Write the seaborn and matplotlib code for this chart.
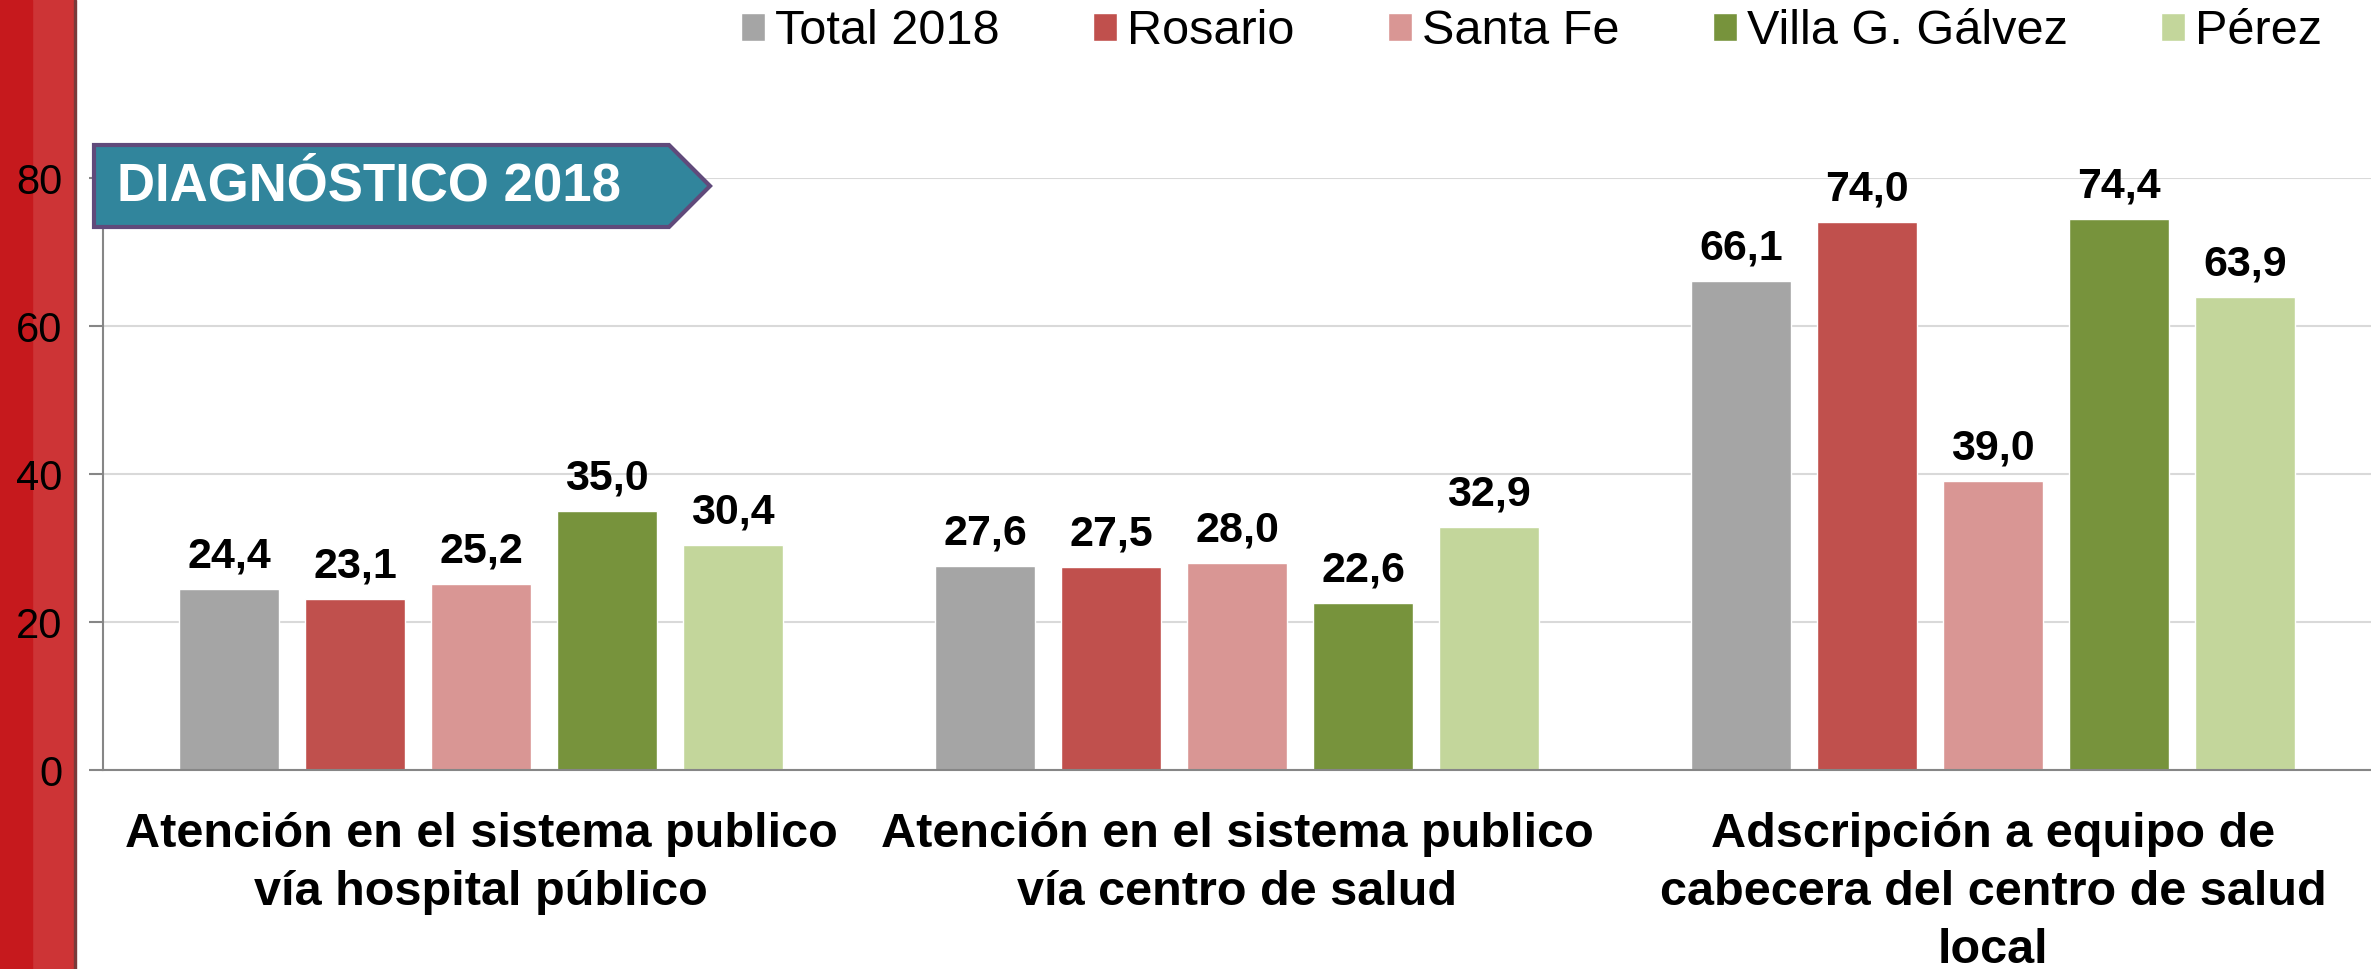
import numpy as np
import pandas as pd
import matplotlib
matplotlib.use("Agg")
import matplotlib.pyplot as plt
import seaborn as sns
from matplotlib.patches import Rectangle, Polygon

# datos
categorias = ["Atención en el sistema publico\nvía hospital público",
              "Atención en el sistema publico\nvía centro de salud",
              "Adscripción a equipo de\ncabecera del centro de salud\nlocal"]
regiones = ["Total 2018", "Rosario", "Santa Fe", "Villa G. Gálvez", "Pérez"]
total_2018 = [24.4, 27.6, 66.1]
rosario = [23.1, 27.5, 74.0]
santa_fe = [25.2, 28.0, 39.0]
villa_g_galvez = [35.0, 22.6, 74.4]
perez = [30.4, 32.9, 63.9]
colores = ["#A5A5A5", "#C0504D", "#D99694", "#77933C", "#C3D69B"]
y_ticks = [0, 20, 40, 60, 80]

sns.set_style("white")
plt.rcParams['font.family'] = ['Liberation Sans', 'DejaVu Sans']
plt.rcParams['text.color'] = 'black'

series = [total_2018, rosario, santa_fe, villa_g_galvez, perez]
df = pd.DataFrame({
    "Categoria": categorias * len(regiones),
    "Region": np.repeat(regiones, len(categorias)),
    "Valor": np.concatenate(series)})

W, H = 2371, 969
fig = plt.figure(figsize=(W / 100, H / 100), dpi=100)

# franja roja de la diapositiva
fig.patches.append(Rectangle((0, 0), 75 / W, 1, transform=fig.transFigure,
                             color="#CD3436", zorder=-2))
fig.patches.append(Rectangle((0, 0), 32 / W, 1, transform=fig.transFigure,
                             color="#C6191D", zorder=-2))
fig.patches.append(Rectangle((74 / W, 0), 2 / W, 1, transform=fig.transFigure,
                             color="#7A3A3A", zorder=-2))

ax = fig.add_axes([103 / W, 199 / H, 1 - 103 / W, 592 / H])
ax.patch.set_alpha(0)
sns.barplot(data=df, x="Categoria", y="Valor", hue="Region", hue_order=regiones,
            palette=colores, width=0.833, gap=0.2, saturation=1,
            errorbar=None, ax=ax)

ax.set_xlim(-0.5, 2.5)
ax.set_ylim(0, 80)
ax.set_yticks(y_ticks)
ax.set_xlabel("")
ax.set_ylabel("")
ax.yaxis.grid(True, color="#D9D9D9", lw=1.5)
ax.set_axisbelow(True)
for s in ["top", "right"]:
    ax.spines[s].set_visible(False)
for s in ["left", "bottom"]:
    ax.spines[s].set_color("#868686")
    ax.spines[s].set_linewidth(1.5)
ax.tick_params(axis="y", left=True, length=10, width=1.5, color="#868686",
               pad=19, labelsize=30, labelcolor="black")
ax.tick_params(axis="x", bottom=False, length=0, pad=30, labelsize=35,
               labelcolor="black")
for lbl in ax.get_xticklabels():
    lbl.set_fontweight("bold")
    lbl.set_linespacing(1.37)

# etiquetas de valores
for cont in ax.containers:
    ax.bar_label(cont, labels=[f"{v:.1f}".replace(".", ",") for v in cont.datavalues],
                 padding=9, fontsize=31, fontweight="bold", color="black")

# leyenda arriba a la derecha
handles, labels = ax.get_legend_handles_labels()
ax.get_legend().remove()
fig.legend(handles, labels, loc="center right", bbox_to_anchor=(2322 / W, 1 - 32 / H),
           ncol=5, frameon=False, fontsize=35, handlelength=0.5, handleheight=0.5,
           handletextpad=0.2, columnspacing=1.92, borderpad=0, borderaxespad=0)

# cartel DIAGNÓSTICO 2018
pts = [(94, 145), (669, 145), (710, 186), (669, 227), (94, 227)]
banner = Polygon([(x / W, 1 - y / H) for x, y in pts], closed=True,
                 transform=fig.transFigure, facecolor="#31859C",
                 edgecolor="#604A7B", lw=3, zorder=5)
fig.add_artist(banner)
fig.text(117 / W, 1 - 187 / H, "DIAGNÓSTICO 2018", color="white", fontsize=38,
         fontweight="bold", ha="left", va="center", zorder=6)

fig.savefig("out.png", dpi=100)
